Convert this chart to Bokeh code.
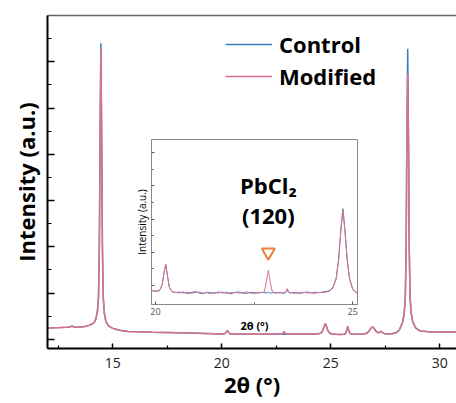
from bokeh.plotting import figure
from bokeh.models import FixedTicker, Legend, LegendItem, LinearAxis, Range1d, ColumnDataSource
from bokeh.embed import file_html
from bokeh.resources import INLINE
from bokeh.core.properties import value

# ---------------- data ----------------
two_theta = [12.0, 12.3, 12.6, 12.9, 13.05, 13.12, 13.2, 13.4, 13.7, 13.9,
             14.05, 14.15, 14.22, 14.29, 14.34, 14.38, 14.41, 14.45, 14.49, 14.52, 14.56, 14.61, 14.68, 14.8, 15.0,
             15.3, 15.7, 16.2, 16.8, 17.4, 18.0, 18.6, 19.2, 19.7, 20.0,
             20.1, 20.17, 20.22, 20.26, 20.3, 20.35, 20.42,
             20.5, 20.6, 20.7, 20.8, 20.9, 21.0, 21.1, 21.2, 21.3, 21.4, 21.5, 21.6, 21.7, 21.8, 21.9, 22.0,
             22.1, 22.2, 22.3, 22.4, 22.5, 22.6, 22.7,
             22.76, 22.81, 22.86, 22.91, 22.96,
             23.05, 23.15, 23.25, 23.3, 23.34, 23.38, 23.45, 23.55, 23.65, 23.75, 23.85, 23.95, 24.05, 24.15, 24.25, 24.35,
             24.42, 24.5, 24.58, 24.64, 24.7, 24.75, 24.8, 24.86, 24.92, 25.0, 25.1,
             25.25, 25.45, 25.6, 25.68, 25.74, 25.78, 25.82, 25.88, 25.96, 26.1, 26.3, 26.5,
             26.65, 26.75, 26.85, 26.92, 26.99, 27.08, 27.16, 27.24, 27.3, 27.36, 27.45, 27.6, 27.8,
             28.0, 28.15, 28.3, 28.37, 28.42, 28.46, 28.49, 28.53, 28.57, 28.6, 28.64, 28.69, 28.76, 28.9, 29.1,
             29.5, 30.0, 30.4, 30.77]

control = [245, 248, 252, 258, 268, 290, 266, 262, 275, 300,
           330, 370, 440, 600, 900, 2000, 4200, 6400, 4200, 2000, 900, 560, 380, 290, 235,
           195, 170, 160, 152, 146, 140, 133, 126, 120, 115,
           116, 132, 166, 187, 160, 126, 114,
           112, 110, 113, 109, 111, 114, 110, 108, 112, 111, 109, 113, 110, 112, 108, 111,
           113, 110, 109, 112, 111, 110, 112,
           111, 110, 112, 109, 111,
           110, 112, 109, 111, 118, 111, 110, 112, 109, 111, 113, 110, 112, 111, 113, 115,
           117, 126, 150, 200, 282, 338, 282, 200, 148, 120, 110,
           106, 105, 108, 125, 200, 283, 200, 130, 110, 106, 107, 112,
           130, 175, 240, 266, 235, 170, 140, 150, 173, 150, 125, 115, 118,
           140, 200, 380, 560, 900, 2000, 4200, 6280, 4200, 2000, 900, 560, 380, 240, 180,
           160, 155, 155, 158]

modified = [245, 248, 252, 258, 268, 290, 266, 262, 275, 300,
            330, 370, 440, 600, 900, 2000, 4200, 6280, 4200, 2000, 900, 560, 380, 290, 235,
            195, 170, 160, 152, 146, 140, 133, 126, 120, 115,
            116, 132, 166, 187, 160, 126, 114,
            111, 113, 110, 112, 109, 111, 113, 110, 111, 108, 112, 110, 113, 109, 111, 112,
            110, 111, 113, 110, 109, 112, 111,
            113, 140, 171, 140, 113,
            111, 110, 112, 112, 122, 112, 111, 109, 111, 112, 110, 111, 109, 112, 111, 113,
            116, 124, 148, 198, 280, 336, 280, 198, 147, 120, 110,
            106, 105, 108, 125, 200, 283, 200, 130, 110, 106, 107, 112,
            130, 175, 240, 266, 235, 170, 140, 150, 173, 150, 125, 115, 118,
            140, 200, 380, 560, 900, 2000, 4200, 5739, 4200, 2000, 900, 560, 380, 240, 180,
            160, 155, 155, 158]

series_names = ["Control", "Modified"]
x_ticks = [15, 20, 25, 30]
x_minor_ticks = [12.5, 17.5, 22.5, 27.5]
y_ticks = [0, 1000, 2000, 3000, 4000, 5000, 6000]
y_minor_ticks = [500, 1500, 2500, 3500, 4500, 5500, 6500]
inset_x_ticks = [20, 25]
inset_x_minor_ticks = [22.5]
inset_y_ticks = [130, 220, 310, 400, 490]
inset_y_minor_ticks = [175, 265, 355, 445]
pbcl2_peak = 22.86
pbcl2_label = ["PbCl\u2082", "(120)"]

assert len(two_theta) == len(control) == len(modified)

BLUE = "#3a7ebf"
PINK = "#e0708a"
FONT = "Open Sans"

src = ColumnDataSource(dict(x=two_theta, c=control, m=modified))

# ---------------- main figure ----------------
p = figure(frame_width=409, frame_height=333,
           x_range=Range1d(12, 30.77), y_range=Range1d(-200, 7000),
           output_backend="svg", toolbar_location=None,
           min_border_left=47, min_border_right=0, min_border_top=15, min_border_bottom=55,
           x_axis_label="2\u03b8 (\u00b0)", y_axis_label="Intensity (a.u.)")
p.outline_line_color = None
p.grid.visible = False
p.background_fill_color = "white"
p.border_fill_color = "white"

rc = p.line("x", "c", source=src, line_color=BLUE, line_width=1.5)
rm = p.line("x", "m", source=src, line_color=PINK, line_width=1.5)

xa = p.xaxis[0]
xa.ticker = FixedTicker(ticks=x_ticks, minor_ticks=x_minor_ticks)
xa.axis_line_width = 2
xa.axis_line_color = "black"
xa.major_tick_in = 5
xa.major_tick_out = 0
xa.minor_tick_in = 3
xa.minor_tick_out = 0
xa.major_tick_line_width = 1.5
xa.minor_tick_line_width = 1.2
xa.major_tick_line_color = "black"
xa.minor_tick_line_color = "black"
xa.major_label_text_font = FONT
xa.major_label_text_font_size = "14px"
xa.major_label_text_color = "#222222"
xa.major_label_standoff = 9
xa.axis_label_text_font = FONT
xa.axis_label_text_font_size = "22px"
xa.axis_label_text_font_style = "bold"
xa.axis_label_text_color = "black"
xa.axis_label_standoff = -2

ya = p.yaxis[0]
ya.ticker = FixedTicker(ticks=y_ticks, minor_ticks=y_minor_ticks)
ya.axis_line_width = 2
ya.axis_line_color = "black"
ya.major_tick_in = 7
ya.major_tick_out = 0
ya.minor_tick_in = 4
ya.minor_tick_out = 0
ya.major_tick_line_width = 1.5
ya.minor_tick_line_width = 1.2
ya.major_tick_line_color = "black"
ya.minor_tick_line_color = "black"
ya.major_label_overrides = {t: "" for t in y_ticks}
ya.major_label_text_font_size = "10px"
ya.major_label_standoff = 0
ya.axis_label_text_font = FONT
ya.axis_label_text_font_size = "22px"
ya.axis_label_text_font_style = "bold"
ya.axis_label_text_color = "black"
ya.axis_label_standoff = 7

top = LinearAxis(ticker=FixedTicker(ticks=[]), axis_line_color="#666666", axis_line_width=1.5,
                 major_tick_in=0, major_tick_out=0,
                 minor_tick_in=0, minor_tick_out=0, major_label_standoff=0)
p.add_layout(top, "above")

legend = Legend(items=[LegendItem(label=series_names[0], renderers=[rc]),
                       LegendItem(label=series_names[1], renderers=[rm])],
                location=(178, 257), orientation="vertical",
                glyph_width=47, glyph_height=30, label_height=30, spacing=2,
                label_standoff=7, padding=0, margin=0,
                border_line_color=None, background_fill_alpha=0,
                label_text_font=FONT, label_text_font_size="22px",
                label_text_font_style="bold", label_text_color="black")
p.add_layout(legend)

# ---------------- inset (separate figure laid over the main one) ----------------
ins = figure(frame_width=206, frame_height=165,
             x_range=Range1d(19.9, 25.12), y_range=Range1d(79, 525),
             output_backend="svg", toolbar_location=None,
             min_border_left=20, min_border_right=4, min_border_top=4, min_border_bottom=32,
             x_axis_label="2\u03b8 (\u00b0)", y_axis_label="Intensity (a.u.)")
ins.border_fill_color = None
ins.border_fill_alpha = 0
ins.background_fill_color = "white"
ins.outline_line_color = "#8a8a8a"
ins.outline_line_width = 1
ins.grid.visible = False

ins.line("x", "c", source=src, line_color=BLUE, line_width=1)
ins.line("x", "m", source=src, line_color=PINK, line_width=1)

ins.scatter([pbcl2_peak], [220], marker="inverted_triangle", size=13,
            fill_color=None, line_color="#e8803a", line_width=2)
ins.text(x=[pbcl2_peak, pbcl2_peak], y=[401, 320], text=pbcl2_label,
         text_font=value(FONT), text_font_size="22px", text_font_style="bold",
         text_align="center", text_baseline="middle", text_color="black")

ixa = ins.xaxis[0]
ixa.ticker = FixedTicker(ticks=inset_x_ticks, minor_ticks=inset_x_minor_ticks)
ixa.axis_line_color = "#8a8a8a"
ixa.axis_line_width = 1
ixa.major_tick_in = 3
ixa.major_tick_out = 0
ixa.minor_tick_in = 2
ixa.minor_tick_out = 0
ixa.major_tick_line_color = "#555555"
ixa.minor_tick_line_color = "#555555"
ixa.major_label_text_font = FONT
ixa.major_label_text_font_size = "9px"
ixa.major_label_text_color = "#555555"
ixa.major_label_standoff = 3
ixa.axis_label_text_font = FONT
ixa.axis_label_text_font_size = "11px"
ixa.axis_label_text_font_style = "bold"
ixa.axis_label_text_color = "black"
ixa.axis_label_standoff = 0

iya = ins.yaxis[0]
iya.ticker = FixedTicker(ticks=inset_y_ticks, minor_ticks=inset_y_minor_ticks)
iya.axis_line_color = "#8a8a8a"
iya.axis_line_width = 1
iya.major_tick_in = 3
iya.major_tick_out = 0
iya.minor_tick_in = 2
iya.minor_tick_out = 0
iya.major_tick_line_color = "#555555"
iya.minor_tick_line_color = "#555555"
iya.major_label_overrides = {t: "" for t in inset_y_ticks}
iya.major_label_text_font_size = "9px"
iya.major_label_standoff = 0
iya.axis_label_text_font = FONT
iya.axis_label_text_font_size = "10px"
iya.axis_label_text_font_style = "normal"
iya.axis_label_text_color = "black"
iya.axis_label_standoff = 3

ins.styles = {"position": "absolute", "left": "131px", "top": "135px", "z-index": "1"}

open("out.html", "w").write(file_html([p, ins], INLINE))
